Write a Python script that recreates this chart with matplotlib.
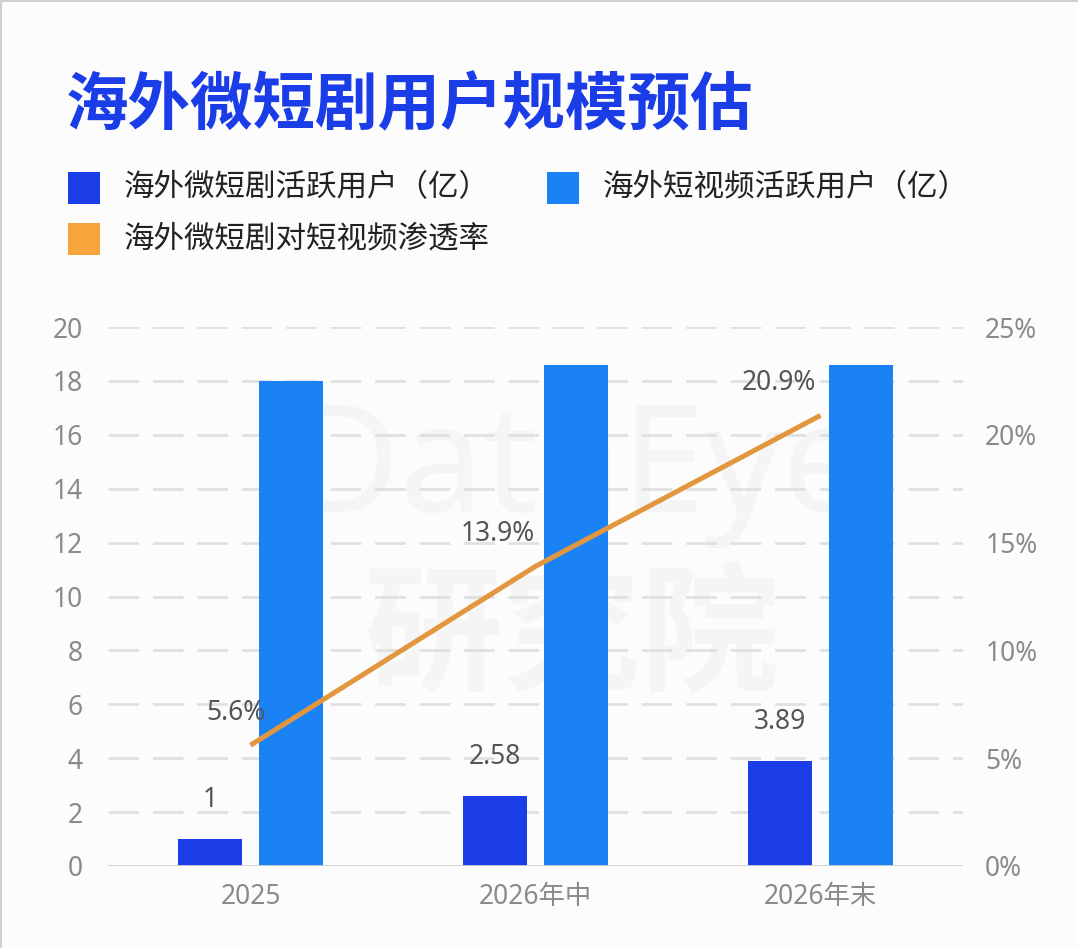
import matplotlib
matplotlib.use("Agg")
import matplotlib.pyplot as plt
from matplotlib.patches import Rectangle
from matplotlib.lines import Line2D
import numpy as np

plt.rcParams['font.family'] = ['Noto Sans CJK SC', 'DejaVu Sans']
NUM_FONT = ['Noto Sans', 'Noto Sans CJK SC', 'DejaVu Sans']

# ---- data ----
categories = ["2025", "2026年中", "2026年末"]
micro_drama_users = [1, 2.58, 3.89]          # 亿
short_video_users = [18.0, 18.6, 18.6]       # 亿
penetration = [5.6, 13.9, 20.9]              # %
micro_labels = ["1", "2.58", "3.89"]
pen_labels = ["5.6%", "13.9%", "20.9%"]
left_ticks = list(range(0, 21, 2))
right_ticks = [0, 5, 10, 15, 20, 25]
series_names = ["海外微短剧活跃用户（亿）", "海外短视频活跃用户（亿）", "海外微短剧对短视频渗透率"]
title = "海外微短剧用户规模预估"

c_dark = "#1a3de8"
c_light = "#1b82f5"
c_line = "#e2973e"
c_legend_orange = "#f7a53b"
c_tick = "#8a8a8a"
c_val = "#555555"

W, H = 1078, 948
fig = plt.figure(figsize=(W / 100, H / 100), dpi=100)
fig.patch.set_facecolor("#fcfcfc")

def fx(px):
    return px / W

def fy(py):
    return 1 - py / H

# border lines (top, left)
fig.add_artist(Line2D([0, 1], [fy(1), fy(1)], color="#d0d0d0", lw=1.5))
fig.add_artist(Line2D([fx(1), fx(1)], [0, 1], color="#d0d0d0", lw=1.5))

# title
fig.text(fx(66), fy(106), title, fontsize=45, fontweight="heavy", color=c_dark,
         va="center", ha="left")

# legend (manual)
leg_items = [
    (68, 188, c_dark, series_names[0]),
    (547, 188, c_light, series_names[1]),
    (68, 239, c_legend_orange, series_names[2]),
]
for x0, yc, col, name in leg_items:
    fig.add_artist(Rectangle((fx(x0), fy(yc + 16)), fx(32), 32 / H,
                             facecolor=col, edgecolor="none",
                             transform=fig.transFigure))
    fig.text(fx(x0 + 56), fy(yc), name, fontsize=22, color="#222222",
             va="center", ha="left")

# axes
ax = fig.add_axes([fx(108), fy(866), fx(963 - 108), (866 - 327) / H])
ax.set_facecolor("none")
ax.set_xlim(-0.5, 2.5)
ax.set_ylim(0, 20)

# watermark
ax.text(0.55, 0.73, "DataEye", transform=ax.transAxes, fontsize=108,
        color="#f5f5f5", ha="center", va="center", zorder=0, fontweight="bold",
        family=NUM_FONT)
ax.text(0.543, 0.42, "研究院", transform=ax.transAxes, fontsize=100,
        color="#f5f5f5", ha="center", va="center", zorder=0, fontweight="bold")

x = np.arange(len(categories))
bw = 0.224
off = 0.143
ax.bar(x - off, micro_drama_users, width=bw, color=c_dark, zorder=3)
ax.bar(x + off, short_video_users, width=bw, color=c_light, zorder=3)

for xi, v, lab in zip(x, micro_drama_users, micro_labels):
    ax.annotate(lab, (xi - off, v), xytext=(0, 39), textcoords="offset pixels",
                ha="center", va="center", fontsize=19, color=c_val, zorder=5,
                family=NUM_FONT)

# grid
for t in left_ticks[1:]:
    ax.axhline(t, color="#e0e0e0", lw=2, dashes=(11, 5), zorder=1)
ax.axhline(0, color="#cfcfcf", lw=2, zorder=4)

ax.set_yticks(left_ticks)
ax.set_yticklabels([str(t) for t in left_ticks], family=NUM_FONT)
ax.set_xticks(x)
ax.set_xticklabels(categories, family=NUM_FONT)
ax.tick_params(axis="y", length=0, pad=18, labelsize=19, labelcolor=c_tick)
ax.tick_params(axis="x", length=0, pad=12, labelsize=19, labelcolor=c_tick)
for s in ax.spines.values():
    s.set_visible(False)

ax2 = ax.twinx()
ax2.set_ylim(0, 25)
ax2.plot(x, penetration, color=c_line, lw=3.6, zorder=6, solid_capstyle="butt")
label_dx = [-15, -38, -42]
for xi, v, lab, dx in zip(x, penetration, pen_labels, label_dx):
    ax2.annotate(lab, (xi, v), xytext=(dx, 32), textcoords="offset pixels",
                 ha="center", va="center", fontsize=19, color=c_val, zorder=7,
                 family=NUM_FONT)
ax2.set_yticks(right_ticks)
ax2.set_yticklabels([f"{t}%" for t in right_ticks], family=NUM_FONT)
ax2.tick_params(axis="y", length=0, pad=16, labelsize=19, labelcolor=c_tick)
for s in ax2.spines.values():
    s.set_visible(False)

fig.savefig("out.png", dpi=100, facecolor=fig.get_facecolor())
